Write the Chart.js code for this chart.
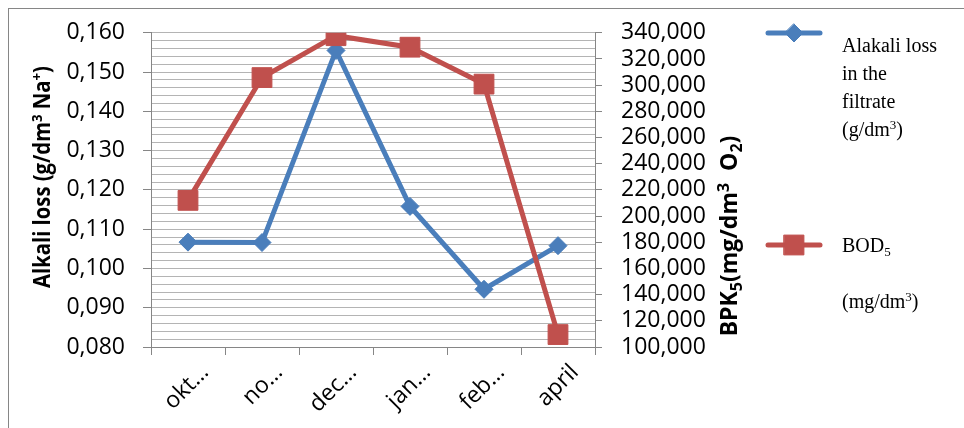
<!DOCTYPE html>
<html>
<head>
<meta charset="utf-8">
<script src="https://cdn.jsdelivr.net/npm/chart.js@4/dist/chart.umd.min.js"></script>
<style>
  html, body { margin: 0; padding: 0; background: #fff; }
  #wrap { width: 964px; height: 428px; position: relative; }
</style>
</head>
<body>
<div id="wrap"><canvas id="c" width="964" height="428"></canvas></div>
<script>
// Monthly samples
const months = ['okt…', 'no…', 'dec…', 'jan…', 'feb…', 'april'];
// Alkali loss in the filtrate, g/dm3 Na+ (left axis)
const alkaliLoss = [0.1067, 0.1066, 0.1555, 0.1158, 0.0947, 0.1058];
// BOD5, mg/dm3 O2 (right axis)
const bod5 = [212.0, 305.8, 337.8, 329.0, 300.8, 109.5];

// Rich text runs: [text, style] where style is 'n' normal, 'sup' or 'sub'
const leftTitle = [['Alkali loss (g/dm', 'n'], ['3', 'sup'], [' Na', 'n'], ['+', 'sup'], [')', 'n']];
const rightTitle = [['BPK', 'n'], ['5', 'sub'], ['(mg/dm', 'n'], ['3', 'sup'], ['  O', 'n'], ['2', 'sub'], [')', 'n']];
const legendAlkali = [
  [['Alakali loss', 'n']],
  [['in the', 'n']],
  [['filtrate', 'n']],
  [['(g/dm', 'n'], ['3', 'sup'], [')', 'n']]
];
const legendBod = [
  [['BOD', 'n'], ['5', 'sub']],
  [],
  [['(mg/dm', 'n'], ['3', 'sup'], [')', 'n']]
];

const BLUE = '#4a7ebb';
const RED = '#c0504d';
const GRID = '#b4b4b4';
const AXIS = '#868686';
const TICK_FONT = { family: 'Open Sans', size: 23 };

const isMajor = v => Math.abs(v * 100 - Math.round(v * 100)) < 1e-6;

// Draw a run of text with super/subscripts; align 'center' or 'left'
function richText(ctx, runs, x, y, opts) {
  const { size, family, weight, align } = opts;
  const ratio = opts.ratio || 0.65;
  const small = Math.round(size * ratio);
  const fontFor = st => `${weight} ${st === 'n' ? size : small}px ${family}`;
  let total = 0;
  runs.forEach(([t, st]) => { ctx.font = fontFor(st); total += ctx.measureText(t).width; });
  let cx = align === 'center' ? x - total / 2 : x;
  ctx.textAlign = 'left';
  ctx.textBaseline = 'alphabetic';
  runs.forEach(([t, st]) => {
    ctx.font = fontFor(st);
    const dy = st === 'sup' ? -size * 0.36 : st === 'sub' ? size * 0.2 : 0;
    ctx.fillText(t, cx, y + dy);
    cx += ctx.measureText(t).width;
  });
}

// Frame around the whole chart
const framePlugin = {
  id: 'frame',
  beforeDraw(chart) {
    const ctx = chart.ctx;
    ctx.save();
    ctx.fillStyle = '#fff';
    ctx.fillRect(0, 0, chart.width, chart.height);
    ctx.strokeStyle = AXIS;
    ctx.lineWidth = 1;
    ctx.strokeRect(8.5, 8.5, chart.width + 20, chart.height + 20);
    ctx.restore();
  }
};

// Axis titles (both read bottom-to-top) and the side legend
const sidePlugin = {
  id: 'side',
  afterDraw(chart) {
    const ctx = chart.ctx;
    ctx.save();
    ctx.fillStyle = '#000';
    ctx.translate(50, 177);
    ctx.rotate(-Math.PI / 2);
    ctx.scale(0.88, 1);
    richText(ctx, leftTitle, 0, 0,
      { size: 23, family: '"Open Sans"', weight: 'bold', align: 'center', ratio: 0.65 });
    ctx.restore();

    ctx.save();
    ctx.fillStyle = '#000';
    ctx.translate(737, 236);
    ctx.rotate(-Math.PI / 2);
    richText(ctx, rightTitle, 0, 0,
      { size: 23, family: '"Open Sans"', weight: 'bold', align: 'center', ratio: 0.7 });
    ctx.restore();

    const ds = chart.data.datasets;
    const items = [
      { d: ds[0], y: 33, lines: legendAlkali, ty: 52 },
      { d: ds[1], y: 245, lines: legendBod, ty: 252 }
    ];
    ctx.save();
    items.forEach(it => {
      ctx.strokeStyle = it.d.borderColor;
      ctx.lineWidth = 5;
      ctx.lineCap = 'round';
      ctx.beginPath();
      ctx.moveTo(768, it.y);
      ctx.lineTo(820, it.y);
      ctx.stroke();
      ctx.fillStyle = it.d.pointBackgroundColor;
      ctx.strokeStyle = it.d.pointBorderColor;
      ctx.lineWidth = 1;
      ctx.beginPath();
      if (it.d.pointStyle === 'rectRot') {
        const r = it.d.pointRadius;
        ctx.moveTo(794, it.y - r); ctx.lineTo(794 + r, it.y);
        ctx.lineTo(794, it.y + r); ctx.lineTo(794 - r, it.y);
      } else {
        const h = it.d.pointRadius * Math.SQRT1_2;
        ctx.rect(794 - h, it.y - h, 2 * h, 2 * h);
      }
      ctx.closePath();
      ctx.fill();
      ctx.stroke();

      ctx.fillStyle = '#000';
      it.lines.forEach((runs, i) => {
        if (runs.length) {
          richText(ctx, runs, 842, it.ty + i * 28,
            { size: 20, family: '"Liberation Serif"', weight: 'normal', align: 'left' });
        }
      });
    });
    ctx.restore();
  }
};

new Chart(document.getElementById('c'), {
  type: 'line',
  data: {
    labels: months,
    datasets: [
      {
        label: 'Alakali loss in the filtrate (g/dm³)',
        data: alkaliLoss,
        yAxisID: 'y',
        borderColor: BLUE,
        backgroundColor: BLUE,
        pointBackgroundColor: BLUE,
        pointBorderColor: BLUE,
        borderWidth: 5,
        pointStyle: 'rectRot',
        pointRadius: 9,
        pointBorderWidth: 1,
        tension: 0,
        order: 2
      },
      {
        label: 'BOD₅ (mg/dm³)',
        data: bod5,
        yAxisID: 'y1',
        borderColor: RED,
        backgroundColor: RED,
        pointBackgroundColor: RED,
        pointBorderColor: RED,
        borderWidth: 5,
        pointStyle: 'rect',
        pointRadius: 14,
        pointBorderWidth: 1,
        tension: 0,
        order: 1
      }
    ]
  },
  options: {
    responsive: false,
    animation: false,
    layout: { padding: { left: 0, right: 224, top: 27, bottom: 0 } },
    plugins: {
      legend: { display: false },
      tooltip: { enabled: false }
    },
    scales: {
      x: {
        type: 'category',
        offset: true,
        afterFit(s) { s.height = 81; },
        grid: {
          offset: true,
          drawOnChartArea: false,
          tickLength: 8,
          tickColor: AXIS,
          color: AXIS
        },
        border: { color: AXIS, width: 1 },
        ticks: {
          color: '#000',
          font: TICK_FONT,
          maxRotation: 45,
          minRotation: 45,
          autoSkip: false,
          labelOffset: 17,
          padding: 4
        }
      },
      y: {
        position: 'left',
        min: 0.08,
        max: 0.16,
        afterFit(s) { s.width = 151; },
        grid: {
          color: GRID,
          lineWidth: 1,
          tickLength: 8,
          tickColor: c => (c.tick && isMajor(c.tick.value)) ? AXIS : 'rgba(0,0,0,0)'
        },
        border: { color: AXIS, width: 1 },
        ticks: {
          stepSize: 0.002,
          autoSkip: false,
          color: '#000',
          font: TICK_FONT,
          padding: 18,
          callback: v => isMajor(v) ? v.toFixed(3).replace('.', ',') : ''
        }
      },
      y1: {
        position: 'right',
        min: 100,
        max: 340,
        afterFit(s) { s.width = 145; },
        grid: {
          drawOnChartArea: false,
          tickLength: 7,
          tickColor: AXIS
        },
        border: { color: AXIS, width: 1 },
        ticks: {
          stepSize: 20,
          autoSkip: false,
          color: '#000',
          font: TICK_FONT,
          padding: 19,
          callback: v => v.toFixed(3).replace('.', ',')
        }
      }
    }
  },
  plugins: [framePlugin, sidePlugin]
});
</script>
</body>
</html>
